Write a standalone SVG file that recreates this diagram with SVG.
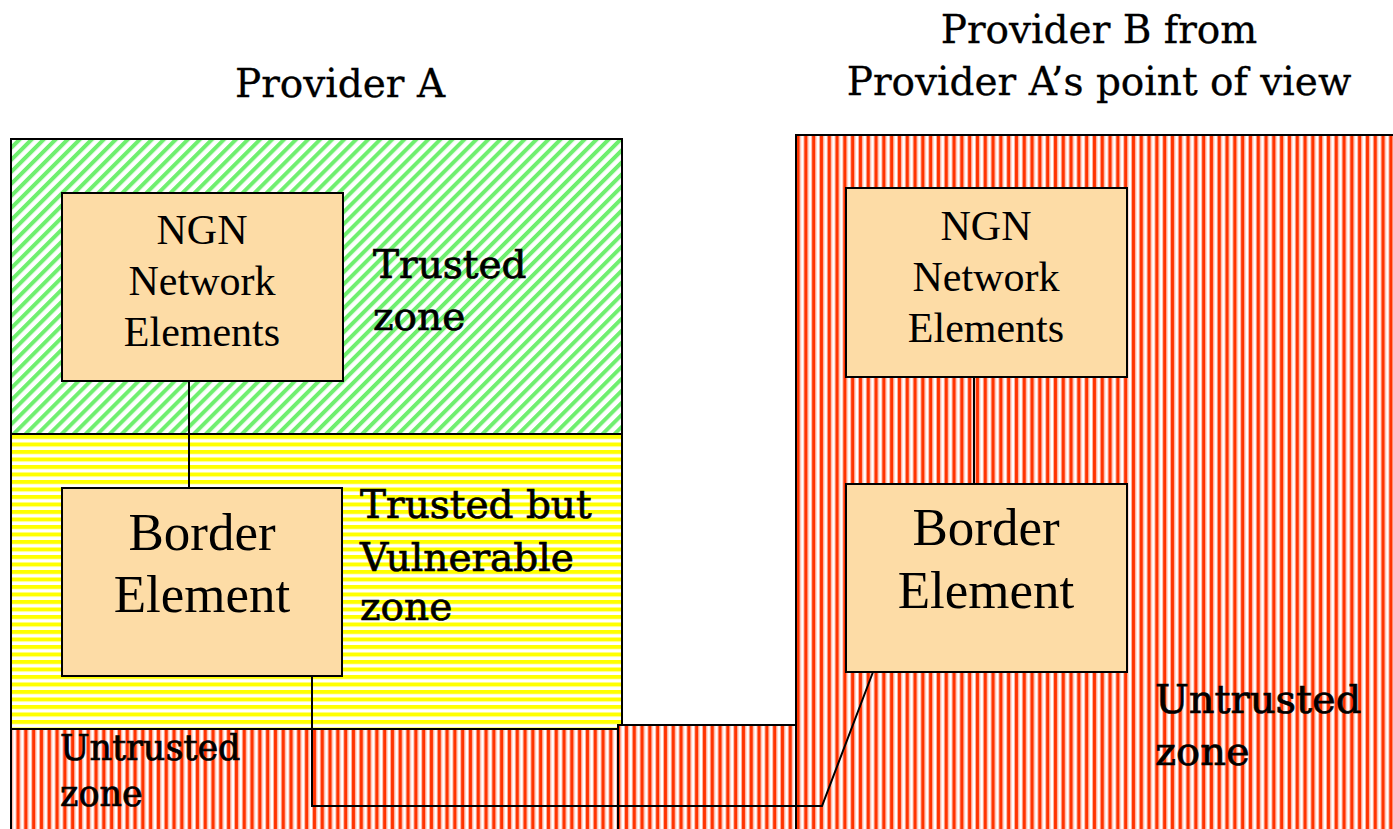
<svg xmlns="http://www.w3.org/2000/svg" width="1393" height="829" viewBox="0 0 1393 829">
  <defs>
    <!-- trusted: light green diagonal hatching -->
    <pattern id="hatchGreen" patternUnits="userSpaceOnUse" width="8.5" height="8.5" patternTransform="rotate(45)">
      <rect width="8.5" height="8.5" fill="#ffffff"/>
      <rect x="0" width="4" height="8.5" fill="#6fef6f"/>
    </pattern>
    <!-- trusted but vulnerable: yellow horizontal stripes -->
    <pattern id="hatchYellow" patternUnits="userSpaceOnUse" width="8" height="7.5">
      <rect width="8" height="7.5" fill="#ffffff"/>
      <rect y="0" width="8" height="4" fill="#ffff00"/>
    </pattern>
    <!-- untrusted: red vertical stripes -->
    <pattern id="hatchRed" patternUnits="userSpaceOnUse" width="7.8" height="10">
      <rect width="7.8" height="10" fill="#ffffff"/>
      <rect x="0" width="1" height="10" fill="#ffb4a0"/>
      <rect x="1" width="3.3" height="10" fill="#ff3300"/>
      <rect x="4.3" width="1" height="10" fill="#ffb4a0"/>
    </pattern>
    <style>
      .zone { stroke: #000; stroke-width: 2; }
      .box { fill: #fddca6; stroke: #000; stroke-width: 2; }
      .title { font-family: "DejaVu Serif", "Liberation Serif", serif; font-size: 39px; fill: #000; stroke: #000; stroke-width: 0.3; }
      .zlabel { font-family: "DejaVu Serif", "Liberation Serif", serif; font-size: 39px; fill: #000; stroke: #000; stroke-width: 0.7; }
      .small { font-family: "Liberation Serif", "Times New Roman", serif; font-size: 42px; fill: #000; text-anchor: middle; }
      .big { font-family: "Liberation Serif", "Times New Roman", serif; font-size: 53px; fill: #000; text-anchor: middle; }
      .link { fill: none; stroke: #000; stroke-width: 2; }
    </style>
  </defs>

  <rect width="1393" height="829" fill="#ffffff"/>

  <!-- titles -->
  <text class="title" x="340" y="97" text-anchor="middle">Provider A</text>
  <text class="title" x="1099" y="43" text-anchor="middle">Provider B from</text>
  <text class="title" x="1099" y="95" text-anchor="middle">Provider A’s point of view</text>

  <!-- Provider A zones -->
  <g id="zone-a-trusted">
    <rect class="zone" x="11" y="139" width="611" height="295" fill="url(#hatchGreen)"/>
    <text class="zlabel" x="373" y="278">Trusted</text>
    <text class="zlabel" x="373" y="330">zone</text>
  </g>
  <g id="zone-a-vulnerable">
    <rect class="zone" x="11" y="434" width="611" height="295" fill="url(#hatchYellow)"/>
    <text class="zlabel" x="360" y="518">Trusted but</text>
    <text class="zlabel" x="360" y="571">Vulnerable</text>
    <text class="zlabel" x="360" y="620">zone</text>
  </g>
  <g id="zone-a-untrusted">
    <rect class="zone" x="11" y="729" width="611" height="120" fill="url(#hatchRed)"/>
    <text class="zlabel" x="60" y="760" style="font-size:35px">Untrusted</text>
    <text class="zlabel" x="60" y="806" style="font-size:35px">zone</text>
  </g>

  <!-- interconnection strip -->
  <g id="zone-link">
    <rect class="zone" x="618" y="725" width="178" height="124" fill="url(#hatchRed)"/>
  </g>

  <!-- Provider B -->
  <g id="zone-b-untrusted">
    <rect class="zone" x="796" y="135" width="620" height="714" fill="url(#hatchRed)"/>
    <text class="zlabel" x="1155" y="713" style="font-size:40px">Untrusted</text>
    <text class="zlabel" x="1155" y="765" style="font-size:40px">zone</text>
  </g>

  <!-- connectors -->
  <g id="connectors">
    <line class="link" x1="189" y1="381" x2="189" y2="488"/>
    <line class="link" x1="974" y1="377" x2="974" y2="484"/>
    <polyline class="link" points="312,672 312,806 822,806 873,672"/>
  </g>

  <!-- nodes -->
  <g id="ngn-a">
    <rect class="box" x="62" y="193" width="281" height="188"/>
    <text class="small" x="202" y="244">NGN</text>
    <text class="small" x="202" y="295">Network</text>
    <text class="small" x="202" y="346">Elements</text>
  </g>
  <g id="border-a">
    <rect class="box" x="62" y="488" width="280" height="188"/>
    <text class="big" x="202" y="550">Border</text>
    <text class="big" x="202" y="612">Element</text>
  </g>
  <g id="ngn-b">
    <rect class="box" x="846" y="188" width="281" height="189"/>
    <text class="small" x="986" y="240">NGN</text>
    <text class="small" x="986" y="291">Network</text>
    <text class="small" x="986" y="342">Elements</text>
  </g>
  <g id="border-b">
    <rect class="box" x="846" y="484" width="281" height="188"/>
    <text class="big" x="986" y="545">Border</text>
    <text class="big" x="986" y="608">Element</text>
  </g>
</svg>
